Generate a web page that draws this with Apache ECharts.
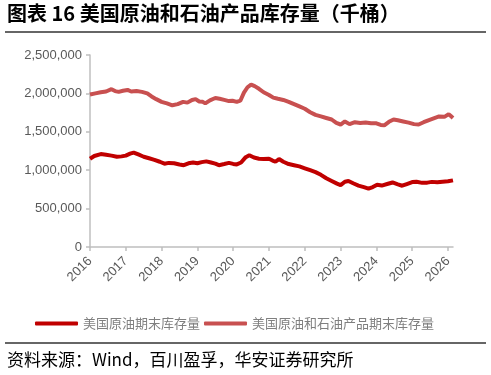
<!DOCTYPE html>
<html>
<head>
<meta charset="utf-8">
<script src="https://cdn.jsdelivr.net/npm/echarts@6/dist/echarts.min.js"></script>
<style>
html,body{margin:0;padding:0;background:#fff;}
#main{width:491px;height:375px;}
</style>
</head>
<body>
<div id="main"></div>
<script>
// 年份刻度
var yearTicks = [2016, 2017, 2018, 2019, 2020, 2021, 2022, 2023, 2024, 2025, 2026];

// 美国原油和石油产品期末库存量（千桶）
var totalYears = [2016.00, 2016.15, 2016.30, 2016.45, 2016.60, 2016.70, 2016.80, 2016.92, 2017.05, 2017.15,
    2017.30, 2017.45, 2017.60, 2017.72, 2017.85, 2018.00, 2018.15, 2018.30, 2018.45, 2018.60,
    2018.72, 2018.85, 2018.95, 2019.05, 2019.15, 2019.22, 2019.35, 2019.50, 2019.62, 2019.75,
    2019.88, 2019.98, 2020.10, 2020.20, 2020.30, 2020.40, 2020.50, 2020.60, 2020.72, 2020.85,
    2021.00, 2021.12, 2021.25, 2021.40, 2021.55, 2021.70, 2021.85, 2022.00, 2022.15, 2022.30,
    2022.45, 2022.60, 2022.75, 2022.88, 2023.00, 2023.12, 2023.25, 2023.40, 2023.55, 2023.70,
    2023.85, 2024.00, 2024.12, 2024.22, 2024.35, 2024.48, 2024.60, 2024.75, 2024.90, 2025.05,
    2025.18, 2025.32, 2025.45, 2025.60, 2025.75, 2025.90, 2026.02, 2026.08, 2026.14];
var totalValues = [1985000, 2000000, 2015000, 2025000, 2055000, 2030000, 2020000, 2035000, 2045000, 2025000,
    2030000, 2020000, 2000000, 1960000, 1925000, 1890000, 1870000, 1845000, 1860000, 1890000,
    1880000, 1915000, 1925000, 1895000, 1890000, 1870000, 1910000, 1940000, 1930000, 1915000,
    1900000, 1905000, 1890000, 1905000, 2010000, 2080000, 2115000, 2095000, 2060000, 2015000,
    1980000, 1945000, 1930000, 1915000, 1890000, 1860000, 1830000, 1800000, 1755000, 1720000,
    1700000, 1680000, 1660000, 1615000, 1595000, 1635000, 1600000, 1625000, 1615000, 1620000,
    1612000, 1610000, 1590000, 1585000, 1630000, 1660000, 1650000, 1635000, 1620000, 1600000,
    1595000, 1625000, 1650000, 1675000, 1700000, 1695000, 1730000, 1705000, 1680000];

// 美国原油期末库存量（千桶）
var crudeYears = [2016.00, 2016.12, 2016.30, 2016.45, 2016.60, 2016.75, 2016.88, 2017.00, 2017.12, 2017.22,
    2017.35, 2017.50, 2017.65, 2017.80, 2017.95, 2018.08, 2018.20, 2018.35, 2018.50, 2018.62,
    2018.75, 2018.88, 2019.00, 2019.12, 2019.25, 2019.38, 2019.50, 2019.60, 2019.75, 2019.88,
    2020.00, 2020.10, 2020.22, 2020.35, 2020.45, 2020.58, 2020.72, 2020.85, 2021.00, 2021.10,
    2021.18, 2021.28, 2021.40, 2021.55, 2021.70, 2021.85, 2022.00, 2022.15, 2022.30, 2022.45,
    2022.60, 2022.75, 2022.90, 2023.00, 2023.12, 2023.22, 2023.35, 2023.50, 2023.65, 2023.78,
    2023.90, 2024.02, 2024.15, 2024.30, 2024.45, 2024.60, 2024.72, 2024.85, 2025.00, 2025.12,
    2025.28, 2025.42, 2025.55, 2025.70, 2025.85, 2026.00, 2026.14];
var crudeValues = [1150000, 1185000, 1210000, 1200000, 1190000, 1175000, 1180000, 1190000, 1215000, 1230000,
    1205000, 1175000, 1155000, 1135000, 1110000, 1085000, 1095000, 1090000, 1075000, 1065000,
    1090000, 1100000, 1090000, 1105000, 1115000, 1100000, 1085000, 1065000, 1080000, 1095000,
    1082000, 1075000, 1100000, 1170000, 1195000, 1165000, 1150000, 1145000, 1150000, 1125000,
    1110000, 1145000, 1110000, 1080000, 1065000, 1050000, 1025000, 1000000, 975000, 940000,
    895000, 860000, 825000, 805000, 850000, 860000, 830000, 800000, 780000, 760000,
    780000, 810000, 800000, 820000, 840000, 815000, 798000, 820000, 845000, 850000,
    835000, 838000, 848000, 842000, 850000, 855000, 868000];

function pairs(xs, ys) {
    var out = [];
    for (var i = 0; i < xs.length; i++) {
        out.push([xs[i], ys[i]]);
    }
    return out;
}

var chart = echarts.init(document.getElementById('main'));
var axisColor = '#BFBFBF';
var labelColor = '#595959';

var option = {
    animation: false,
    grid: {
        left: 90,
        right: 38,
        top: 55,
        bottom: 128
    },
    legend: {
        left: 30,
        top: 312,
        icon: 'roundRect',
        itemWidth: 43,
        itemHeight: 4,
        itemGap: 4,
        textStyle: {
            fontFamily: 'Noto Sans CJK SC',
            fontSize: 13,
            color: '#7F7F7F'
        },
        data: ['美国原油期末库存量', '美国原油和石油产品期末库存量']
    },
    xAxis: {
        type: 'value',
        min: 2016,
        max: 2026.14,
        interval: 1,
        splitLine: {show: false},
        axisLine: {lineStyle: {color: axisColor, width: 1.5}},
        axisTick: {
            show: true,
            length: 4,
            customValues: yearTicks,
            lineStyle: {color: axisColor, width: 1.5}
        },
        axisLabel: {
            rotate: 45,
            margin: 12,
            color: labelColor,
            fontFamily: 'Liberation Sans',
            fontSize: 13,
            customValues: yearTicks,
            formatter: function (v) {
                return Math.abs(v - Math.round(v)) < 1e-6 ? String(Math.round(v)) : '';
            }
        }
    },
    yAxis: {
        type: 'value',
        min: 0,
        max: 2500000,
        interval: 500000,
        splitLine: {show: false},
        axisLine: {show: true, lineStyle: {color: axisColor, width: 1.5}},
        axisTick: {show: true, length: 4, lineStyle: {color: axisColor, width: 1.5}},
        axisLabel: {
            margin: 8,
            color: labelColor,
            fontFamily: 'Liberation Sans',
            fontSize: 13,
            formatter: function (v) {
                return v.toLocaleString('en-US');
            }
        }
    },
    series: [
        {
            name: '美国原油期末库存量',
            type: 'line',
            showSymbol: false,
            color: '#C00000',
            lineStyle: {width: 4, color: '#C00000'},
            data: pairs(crudeYears, crudeValues)
        },
        {
            name: '美国原油和石油产品期末库存量',
            type: 'line',
            showSymbol: false,
            color: '#C85050',
            lineStyle: {width: 4, color: '#C85050'},
            data: pairs(totalYears, totalValues)
        }
    ],
    graphic: [
        {
            type: 'text',
            left: 7,
            top: 3,
            style: {
                text: '图表 16 美国原油和石油产品库存量（千桶）',
                font: 'bold 20px "Noto Sans CJK SC"',
                fill: '#000'
            }
        },
        {
            type: 'line',
            shape: {x1: 5, y1: 32, x2: 486, y2: 32},
            style: {stroke: '#333', lineWidth: 1.5}
        },
        {
            type: 'line',
            shape: {x1: 5, y1: 343, x2: 486, y2: 343},
            style: {stroke: '#333', lineWidth: 1.5}
        },
        {
            type: 'text',
            left: 7,
            top: 351,
            style: {
                text: '资料来源：Wind，百川盈孚，华安证券研究所',
                font: '17px "Noto Sans CJK SC"',
                fill: '#000'
            }
        }
    ]
};
chart.setOption(option);
</script>
</body>
</html>
